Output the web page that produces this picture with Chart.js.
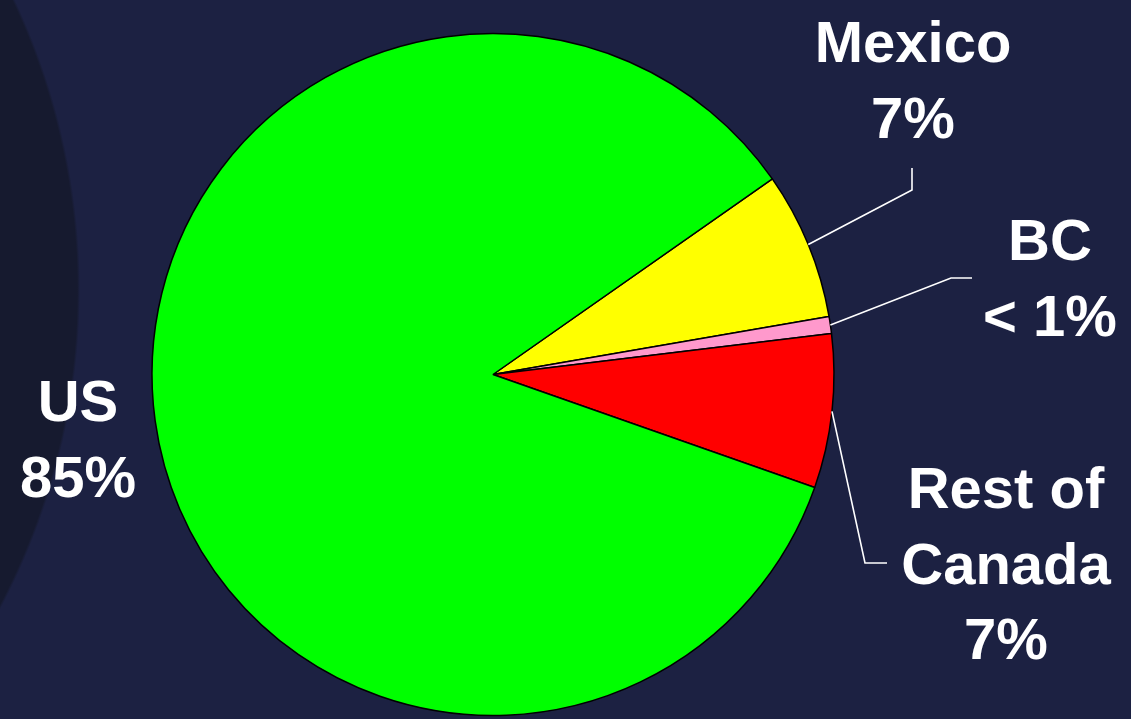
<!DOCTYPE html>
<html>
<head>
<meta charset="utf-8">
<script src="https://cdn.jsdelivr.net/npm/chart.js@4"></script>
<style>
    html, body {
        margin: 0;
        padding: 0;
        width: 1131px;
        height: 719px;
        overflow: hidden;
        background-color: #1c2142;
        background-image: radial-gradient(ellipse 680px 680px at -600px 290px, #161a2f 99.6%, rgba(22, 26, 47, 0) 100%);
    }
    #wrap {
        position: relative;
        width: 1131px;
        height: 719px;
    }
</style>
</head>
<body>
<div id="wrap"><canvas id="pieChart"></canvas></div>
<script>
// Data - clockwise from the Mexico slice
const regions = ['Mexico', 'BC', 'Rest of Canada', 'US'];
const shares = [7.0, 0.8, 7.3, 84.9];
const shareLabels = [['Mexico', '7%'], ['BC', '< 1%'], ['Rest of', 'Canada', '7%'], ['US', '85%']];
const sliceColors = ['#ffff00', '#ff99cc', '#ff0000', '#00ff00'];

// Label layout: text centre x, first baseline y, elbow point of the leader line, end of leader line
const labelLayout = [
    { x: 913, y: 62, elbow: [912, 190], end: [912, 168] },
    { x: 1050, y: 260, elbow: [951, 278], end: [972, 278] },
    { x: 1006, y: 508, elbow: [865, 563], end: [887, 563] },
    { x: 78, y: 421, elbow: null, end: null }
];

const labelPlugin = {
    id: 'sliceLabels',
    afterDatasetsDraw(chart) {
        const ctx = chart.ctx;
        const arcs = chart.getDatasetMeta(0).data;
        ctx.save();
        arcs.forEach((arc, i) => {
            const layout = labelLayout[i];
            if (layout.elbow) {
                const mid = (arc.startAngle + arc.endAngle) / 2;
                const sx = arc.x + Math.cos(mid) * arc.outerRadius;
                const sy = arc.y + Math.sin(mid) * arc.outerRadius;
                ctx.beginPath();
                ctx.strokeStyle = '#ffffff';
                ctx.lineWidth = 1.6;
                ctx.moveTo(sx, sy);
                ctx.lineTo(layout.elbow[0], layout.elbow[1]);
                ctx.lineTo(layout.end[0], layout.end[1]);
                ctx.stroke();
            }
            ctx.fillStyle = '#ffffff';
            ctx.font = 'bold 58px "Liberation Sans", Arial, sans-serif';
            ctx.textAlign = 'center';
            ctx.textBaseline = 'alphabetic';
            shareLabels[i].forEach((line, j) => {
                ctx.fillText(line, layout.x, layout.y + j * 75.5);
            });
        });
        ctx.restore();
    }
};

const ctx = document.getElementById('pieChart').getContext('2d');
window.pieChart = new Chart(ctx, {
    type: 'pie',
    data: {
        labels: regions,
        datasets: [{
            data: shares,
            backgroundColor: sliceColors,
            borderColor: '#000000',
            borderWidth: 1.5
        }]
    },
    options: {
        responsive: true,
        maintainAspectRatio: false,
        animation: false,
        rotation: 55,
        radius: 341,
        layout: {
            padding: { top: 30, bottom: 0, left: 0, right: 145 }
        },
        plugins: {
            legend: { display: false },
            tooltip: { enabled: false }
        }
    },
    plugins: [labelPlugin]
});
</script>
</body>
</html>
